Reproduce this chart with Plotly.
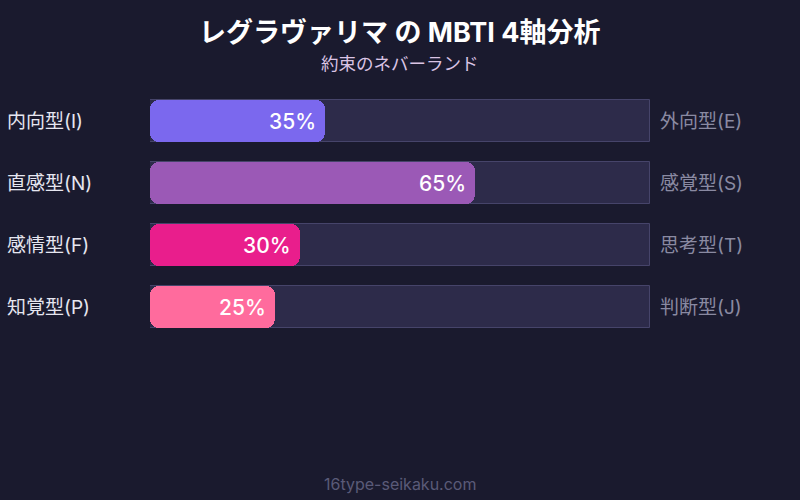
"""MBTI 4-axis bar chart."""
import plotly.graph_objects as go

title = "レグラヴァリマ の MBTI 4軸分析"
subtitle = "約束のネバーランド"
footer = "16type-seikaku.com"

left_labels = ["内向型(I)", "直感型(N)", "感情型(F)", "知覚型(P)"]
right_labels = ["外向型(E)", "感覚型(S)", "思考型(T)", "判断型(J)"]
values = [35, 65, 30, 25]
colors = ["#7B68EE", "#9B59B6", "#E91E8C", "#FF6B9D"]

FONT = "Inter, 'Noto Sans CJK JP', sans-serif"
BG = "#1a1a2e"

rows = list(range(len(values)))

fig = go.Figure()

# background track (100%)
fig.add_trace(go.Bar(
    x=[100] * len(values), y=rows, orientation="h", width=0.68,
    marker=dict(color="#2d2b4a", line=dict(color="#46446a", width=1), cornerradius=0),
    hoverinfo="skip", showlegend=False,
))

# value bars on an overlaid axis; explicit base -> all corners rounded
fig.add_trace(go.Bar(
    x=values, y=rows, base=[0] * len(values), orientation="h", width=0.68,
    yaxis="y2",
    marker=dict(color=colors, line=dict(width=0), cornerradius=9),
    showlegend=False,
))

for i in rows:
    fig.add_annotation(x=values[i], xref="x", y=i, yref="y", text=f"{values[i]}%",
                       showarrow=False, xanchor="right", xshift=-7,
                       font=dict(size=21, color="white", family=FONT, weight=500))
    fig.add_annotation(x=-0.29, xref="paper", y=i, yref="y", text=left_labels[i],
                       showarrow=False, xanchor="left",
                       font=dict(size=19, color="#e6e6f0", family=FONT))
    fig.add_annotation(x=1.016, xref="paper", y=i, yref="y", text=right_labels[i],
                       showarrow=False, xanchor="left",
                       font=dict(size=19, color="#8a8aa2", family=FONT))

fig.add_annotation(x=0.5, xref="paper", y=1.23, yref="paper", yanchor="middle",
                   text=f"<b>{title}</b>", showarrow=False,
                   font=dict(size=27, color="white", family=FONT))
fig.add_annotation(x=0.5, xref="paper", y=1.105, yref="paper", yanchor="middle",
                   text=subtitle, showarrow=False,
                   font=dict(size=17.5, color="#dac4e4", family=FONT))
fig.add_annotation(x=0.5, xref="paper", y=-0.588, yref="paper", yanchor="middle",
                   text=footer, showarrow=False,
                   font=dict(size=16, color="#5a5a78", family=FONT))

fig.update_layout(
    width=800, height=500,
    paper_bgcolor=BG, plot_bgcolor=BG,
    barmode="group", bargap=0,
    margin=dict(l=150, r=150, t=90, b=162),
    font=dict(family=FONT),
    xaxis=dict(range=[0, 100], visible=False, fixedrange=True),
    yaxis=dict(range=[3.5, -0.5], visible=False, fixedrange=True),
    yaxis2=dict(range=[3.5, -0.5], visible=False, fixedrange=True,
                overlaying="y"),
)

fig.write_html("out.html", config={"displayModeBar": False},
               post_script="document.body.style.margin='0';")
